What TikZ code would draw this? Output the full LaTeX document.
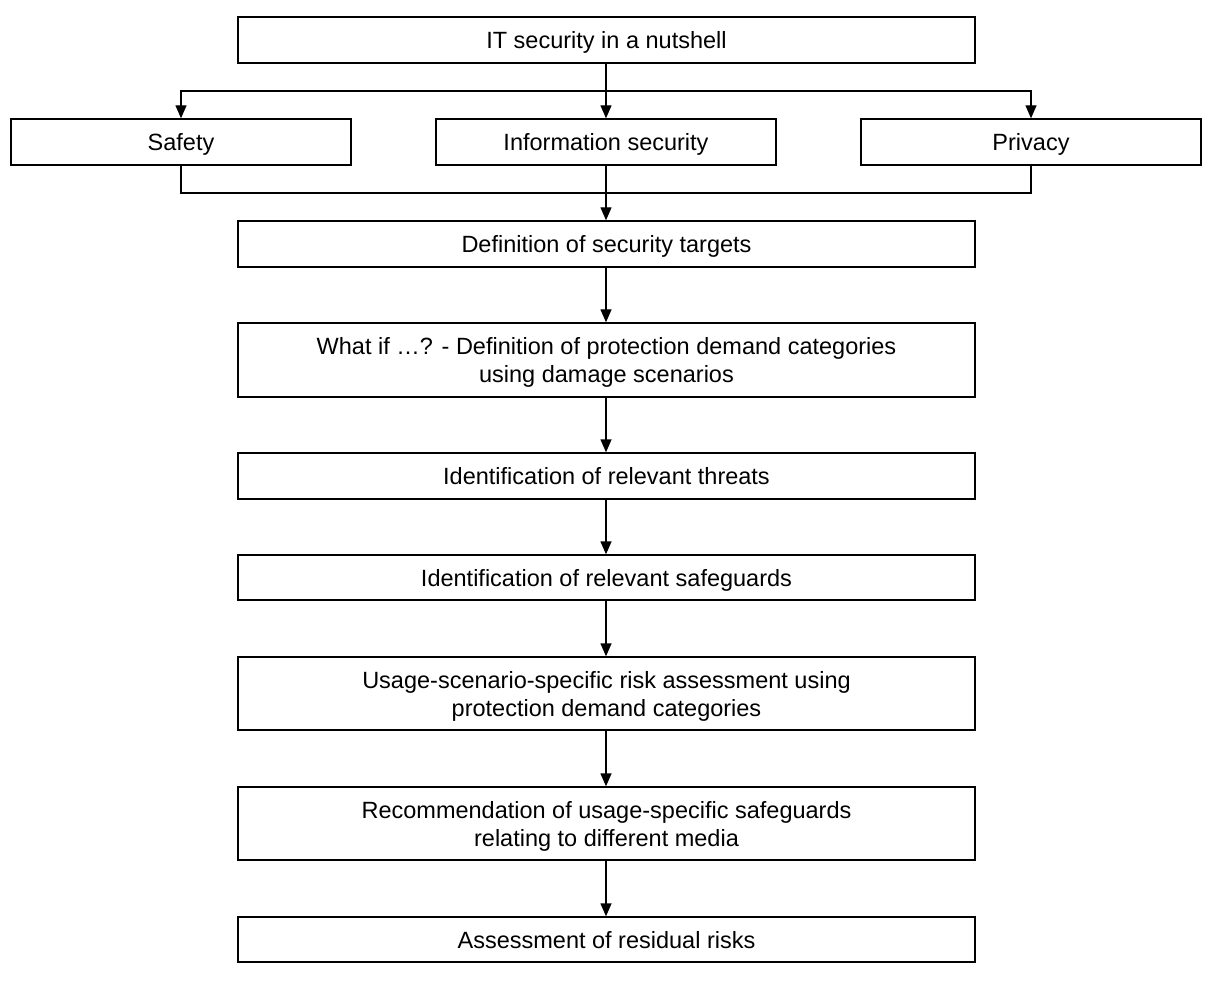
\documentclass[tikz,border=0pt]{standalone}
\usepackage{fontspec}
\setmainfont{Liberation Sans}
\usetikzlibrary{arrows.meta}
\begin{document}
\begin{tikzpicture}[x=1pt,y=-1pt,
  box/.style={draw, line width=1.4pt, inner sep=0pt, align=center,
    font=\fontsize{23.5}{28}\selectfont, text height=17pt, text depth=0pt,
    minimum width=737pt, minimum height=46pt},
  side/.style={box, minimum width=340pt},
  two/.style={box, minimum height=74pt, text height=45pt, text depth=0pt},
  conn/.style={line width=1.4pt},
  arr/.style={conn, -{Triangle[length=13pt,width=11pt]}}]
\useasboundingbox (0,0) rectangle (1208,984);
\node[box] (top) at (606.5,40) {IT security in a nutshell};
\node[side] (safety) at (181,142) {Safety};
\node[side] (info) at (606,142) {Information security};
\node[side] (privacy) at (1031,142) {Privacy};
\node[box] (def) at (606.5,244) {Definition of security targets};
\node[two] (what) at (606.5,360) {What if …? - Definition of protection demand categories\\using damage scenarios};
\node[box] (threats) at (606.5,476) {Identification of relevant threats};
\node[box, minimum height=45pt] (safeg) at (606.5,577.5) {Identification of relevant safeguards};
\node[two, minimum height=73pt] (usage) at (606.5,693.5) {Usage-scenario-specific risk assessment using\\protection demand categories};
\node[two, minimum height=73pt] (rec) at (606.5,823.5) {Recommendation of usage-specific safeguards\\relating to different media};
\node[box, minimum height=45pt] (assess) at (606.5,939.5) {Assessment of residual risks};
\coordinate (b) at (606,91);
\coordinate (m) at (606,193);
\draw[arr] (top.south -| info.north) -- (info.north);
\draw[arr] (b) -| (safety.north);
\draw[arr] (b) -| (privacy.north);
\draw[conn] (safety.south) |- (m);
\draw[conn] (privacy.south) |- (m);
\draw[arr] (info.south) -- (info.south |- def.north);
\draw[arr] (def.south -| info.south) -- (info.south |- what.north);
\draw[arr] (what.south -| info.south) -- (info.south |- threats.north);
\draw[arr] (threats.south -| info.south) -- (info.south |- safeg.north);
\draw[arr] (safeg.south -| info.south) -- (info.south |- usage.north);
\draw[arr] (usage.south -| info.south) -- (info.south |- rec.north);
\draw[arr] (rec.south -| info.south) -- (info.south |- assess.north);
\end{tikzpicture}
\end{document}
